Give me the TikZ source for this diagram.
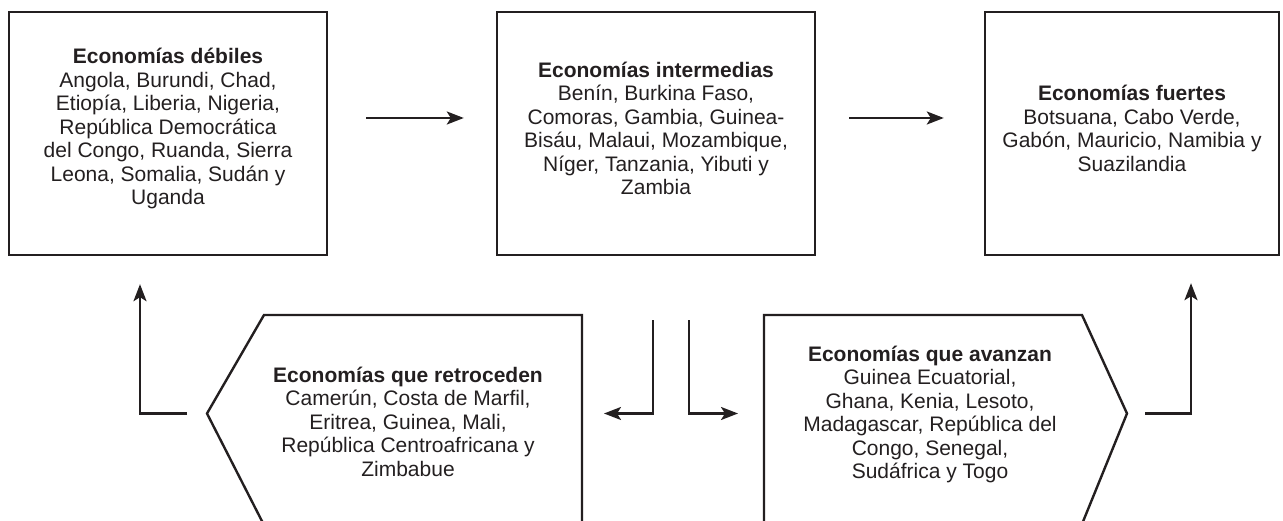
\documentclass[tikz,border=0pt]{standalone}
\usepackage{fontspec}
\setmainfont{Liberation Sans}
\usetikzlibrary{arrows.meta}
\definecolor{ink}{RGB}{35,31,32}

\begin{document}
\begin{tikzpicture}[x=1pt, y=1pt, line width=2.4pt, color=ink,
    font=\fontsize{21pt}{23.5pt}\selectfont,
    link/.style={-{Stealth[length=17pt,width=13pt,inset=4pt]}},
    box/.style={draw, minimum height=243pt, inner sep=0pt},
    txt/.style={align=center, inner sep=0pt}]

                      \useasboundingbox (0,0) rectangle (1283,521);

                      \node[box, minimum width=318pt] (debil) at (168,387.5)
                        [label={[txt, yshift=5pt]center:\textbf{Economías débiles}\\ Angola, Burundi, Chad,\\ Etiopía, Liberia, Nigeria,\\ República Democrática\\ del Congo, Ruanda, Sierra\\ Leona, Somalia, Sudán y\\ Uganda}] {};
                      \node[box, minimum width=318pt] (inter) [right of=debil, node distance=488pt,
                        label={[txt, yshift=5pt]center:\textbf{Economías intermedias}\\ Benín, Burkina Faso,\\ Comoras, Gambia, Guinea-\\ Bisáu, Malaui, Mozambique,\\ Níger, Tanzania, Yibuti y\\ Zambia}] {};
                      \node[box, minimum width=294pt] (fuerte) [right of=inter, node distance=476pt,
                        label={[txt, yshift=5pt]center:\textbf{Economías fuertes}\\ Botsuana, Cabo Verde,\\ Gabón, Mauricio, Namibia y\\ Suazilandia}] {};

                      \node[txt] (retro)  at (408,99.5)  {\textbf{Economías que retroceden}\\ Camerún, Costa de Marfil,\\ Eritrea, Guinea, Mali,\\ República Centroafricana y\\ Zimbabue};
                      \node[txt] (avanza) at (930,106.5) {\textbf{Economías que avanzan}\\ Guinea Ecuatorial,\\ Ghana, Kenia, Lesoto,\\ Madagascar, República del\\ Congo, Senegal,\\ Sudáfrica y Togo};

                      \coordinate (retro tip)    at (207,107.5);
                      \coordinate (retro end)    at (582,107.5);
                      \coordinate (avanza start) at (764,107.5);
                      \coordinate (avanza tip)   at (1127,107.5);

                      % pointed outlines, cut by the page bottom
                      \draw (266,-8) -- (retro tip) -- (264,206) -- (582,206) -- (582,-8);
                      \draw (764,-8) -- (764,206) -- (1082,206) -- (avanza tip) -- (1080,-8);

                      \draw[link] ([xshift=38pt,yshift=15.5pt]debil.east) -- ([xshift=-32pt,yshift=15.5pt]inter.west);
                      \draw[link] ([xshift=33pt,yshift=15.5pt]inter.east) -- ([xshift=-40pt,yshift=15.5pt]fuerte.west);
                      \draw[link] ([xshift=-20pt]retro tip) -| ([xshift=-28pt,yshift=-28pt]debil.south);
                      \draw[link] ([xshift=-3pt,yshift=-64pt]inter.south) |- ([xshift=22pt]retro end);
                      \draw[link] ([xshift=33pt,yshift=-64pt]inter.south) |- ([xshift=-26pt]avanza start);
                      \draw[link] ([xshift=18pt]avanza tip) -| ([xshift=59pt,yshift=-27pt]fuerte.south);
                \end{tikzpicture}
\end{document}
